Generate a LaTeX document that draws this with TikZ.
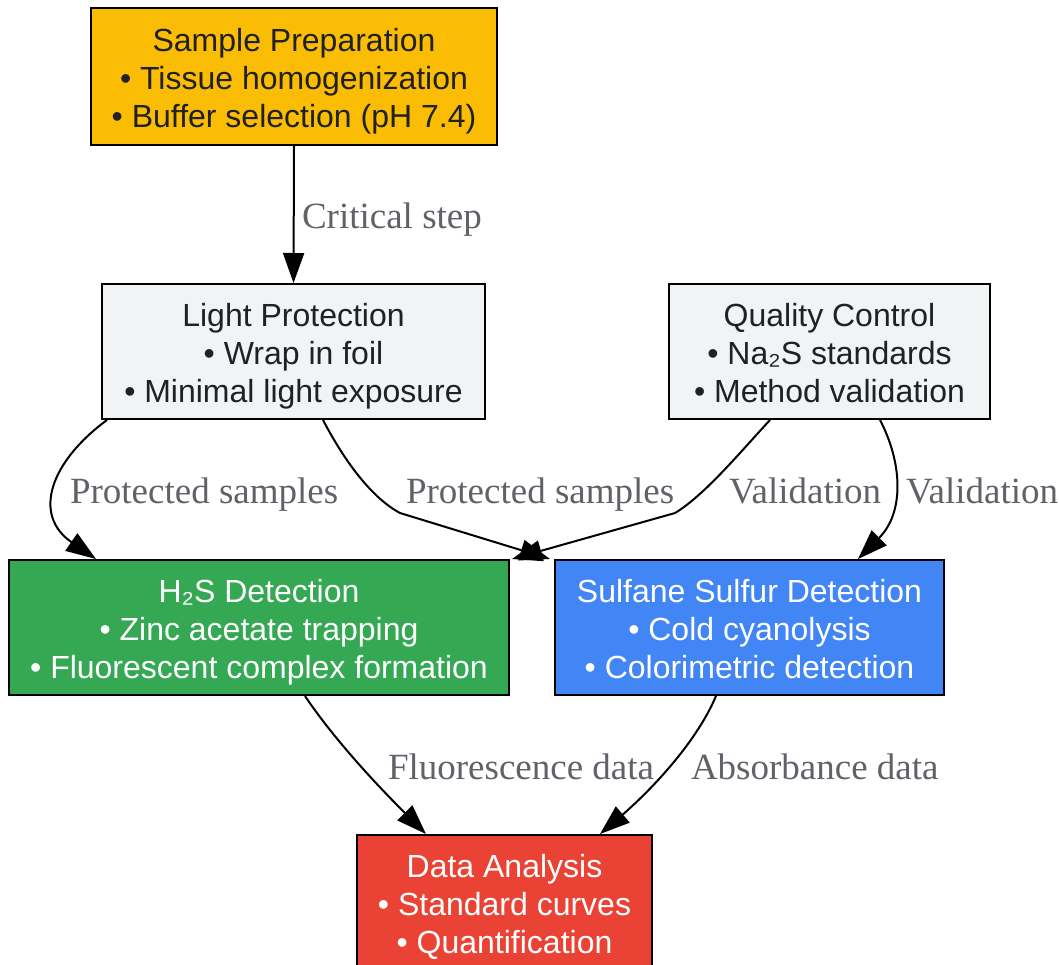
\documentclass[tikz,border=0pt]{standalone}
\usepackage{fontspec}
\setmainfont{Liberation Sans}
\newfontfamily\edgefont{Liberation Serif}
\usetikzlibrary{arrows.meta}

\definecolor{prepyellow}{HTML}{FBBC04}
\definecolor{qcgray}{HTML}{F1F3F4}
\definecolor{detgreen}{HTML}{34A853}
\definecolor{detblue}{HTML}{4285F4}
\definecolor{anared}{HTML}{EA4335}
\definecolor{darktext}{HTML}{202124}
\definecolor{labelgray}{HTML}{5F6368}

\newcommand{\toppad}{\rule{0pt}{16.6pt}}
\newcommand{\botpad}{\rule[-3.4pt]{0pt}{3.4pt}}

\begin{document}
\begin{tikzpicture}[x=0.5pt, y=-0.5pt,
  box/.style={draw=black, line width=1pt, align=center, inner sep=0pt,
    minimum height=67.5pt, font=\fontsize{16}{19}\selectfont},
  darkbox/.style={box, text=darktext},
  lightbox/.style={box, text=white},
  edge/.style={draw=black, line width=1pt, -{Triangle[length=15pt, width=10.5pt]}},
  elabel/.style={anchor=west, inner sep=0pt, text=labelgray, text height=12.6pt, text depth=0pt,
    font=\edgefont\fontsize{18.5}{22}\selectfont}]
\useasboundingbox (0,0) rectangle (1059,964);

% boxes
\node[darkbox, fill=prepyellow, minimum width=203pt, minimum height=68.5pt] (prep) at (294,76.5)
  {\toppad Sample Preparation\\• Tissue homogenization\\• Buffer selection (pH 7.4)\botpad};
\node[darkbox, fill=qcgray, minimum width=191.5pt] (light) at (293.5,351.5)
  {\toppad Light Protection\\• Wrap in foil\\• Minimal light exposure\botpad};
\node[darkbox, fill=qcgray, minimum width=160.5pt] (qc) at (829.5,351.5)
  {\toppad Quality Control\\• Na₂S standards\\• Method validation\botpad};
\node[lightbox, fill=detgreen, minimum width=250pt] (hdet) at (259,627.5)
  {\toppad H₂S Detection\\• Zinc acetate trapping\\• Fluorescent complex formation\botpad};
\node[lightbox, fill=detblue, minimum width=194.5pt] (sdet) at (749.5,627.5)
  {\toppad Sulfane Sulfur Detection\\• Cold cyanolysis\\• Colorimetric detection\botpad};
\node[lightbox, fill=anared, minimum width=147.5pt] (data) at (504.5,902.5)
  {\toppad Data Analysis\\• Standard curves\\• Quantification\botpad};

% connectors
\draw[edge] (prep.south) -- (light.north)
  node[elabel] at (301,216) {Critical step};
\draw[edge] ([xshift=3pt]light.south west) .. controls (50,462) and (32,515) .. ([xshift=44pt]hdet.north west)
  node[elabel] at (69,491) {Protected samples};
\draw[edge] ([xshift=14.75pt]light.south) .. controls (345,462) and (372,498) .. (400,513) -- ([xshift=-2pt]sdet.north west)
  node[elabel] at (405,491) {Protected samples};
\draw[edge] ([xshift=-29.75pt]qc.south) .. controls (742,450) and (705,495) .. (675,513) -- ([xshift=1pt]hdet.north east)
  node[elabel] at (728,491) {Validation};
\draw[edge] ([xshift=25.25pt]qc.south) .. controls (902,462) and (905,512) .. ([xshift=54.25pt]sdet.north)
  node[elabel] at (905,491) {Validation};
\draw[edge] ([xshift=23pt]hdet.south) .. controls (340,748) and (392,800) .. ([xshift=35pt]data.north west)
  node[elabel] at (387,767) {Fluorescence data};
\draw[edge] ([xshift=-16.75pt]sdet.south) .. controls (694,748) and (642,798) .. ([xshift=47.75pt]data.north)
  node[elabel] at (690,767) {Absorbance data};
\end{tikzpicture}
\end{document}
